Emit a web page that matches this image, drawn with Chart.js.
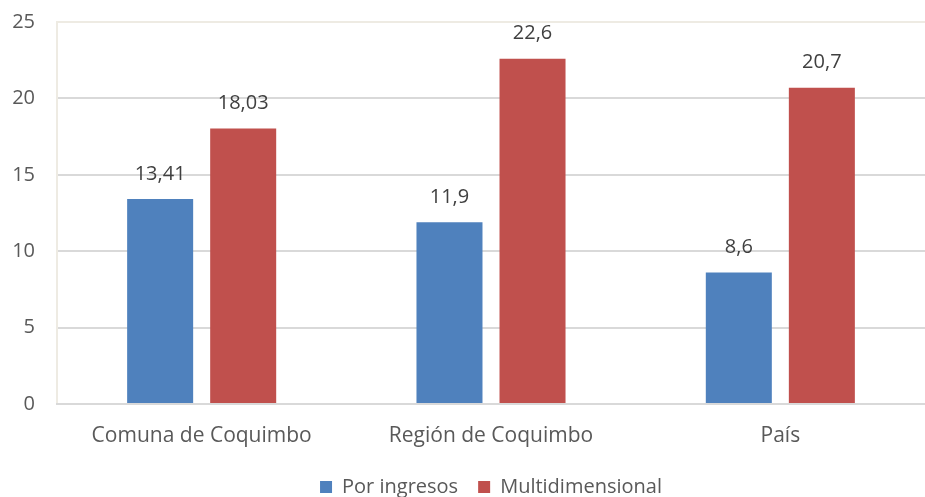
<!DOCTYPE html>
<html lang="es">
    <head>
        <meta charset="utf-8" />
        <script src="https://cdn.jsdelivr.net/npm/chart.js@4"></script>
        <title>Pobreza por ingresos y multidimensional</title>
        <style>
            html, body { margin: 0; padding: 0; background: #fff; }
            #wrap { width: 925px; height: 497px; }
        </style>
    </head>
    <body>
        <div id="wrap"><canvas id="barras" width="925" height="497"></canvas></div>
        <script>
            const categorias = ["Comuna de Coquimbo", "Región de Coquimbo", "País"];
            const porIngresos = [13.41, 11.9, 8.6];
            const multidimensional = [18.03, 22.6, 20.7];
            const etiquetasIngresos = ["13,41", "11,9", "8,6"];
            const etiquetasMulti = ["18,03", "22,6", "20,7"];

            const fuente = "'Open Sans', sans-serif";

            // etiquetas encima de cada barra
            const etiquetas = {
                id: "etiquetas",
                afterDatasetsDraw(chart) {
                    const ctx = chart.ctx;
                    ctx.save();
                    ctx.font = "20px " + fuente;
                    ctx.fillStyle = "#404040";
                    ctx.textAlign = "center";
                    ctx.textBaseline = "middle";
                    chart.data.datasets.forEach((ds, i) => {
                        chart.getDatasetMeta(i).data.forEach((bar, j) => {
                            ctx.fillText(ds.etiquetas[j], bar.x, bar.y - 25);
                        });
                    });
                    ctx.restore();
                }
            };

            // baja la leyenda hasta el borde inferior y la centra bajo el area del grafico
            const moverLeyenda = {
                id: "moverLeyenda",
                afterLayout(chart) {
                    const l = chart.legend;
                    const d = 482 - (l.top + l.height / 2);
                    l.top += d;
                    l.bottom += d;
                    const dx = (chart.chartArea.left + chart.chartArea.right) / 2 - (l.left + l.right) / 2;
                    l.left += dx;
                    l.right += dx;
                }
            };

            new Chart(document.getElementById("barras"), {
                type: "bar",
                data: {
                    labels: categorias,
                    datasets: [
                        { label: "Por ingresos", data: porIngresos, etiquetas: etiquetasIngresos, backgroundColor: "#4F81BD" },
                        { label: "Multidimensional", data: multidimensional, etiquetas: etiquetasMulti, backgroundColor: "#C0504D" }
                    ]
                },
                options: {
                    responsive: false,
                    animation: false,
                    categoryPercentage: 0.574,
                    barPercentage: 0.795,
                    layout: { padding: { top: 22, right: 0, left: 0, bottom: 0 } },
                    scales: {
                        y: {
                            min: 0,
                            max: 25,
                            ticks: { stepSize: 5, color: "#595959", font: { family: fuente, size: 20 }, padding: 22 },
                            grid: {
                                color: (c) => c.tick && c.tick.value === 25 ? "#EEEBE3" : "#D9D9D9",
                                lineWidth: 2,
                                drawTicks: false
                            },
                            border: { display: true, color: "#EEEBE3", width: 2 },
                            afterFit(scale) {
                                scale.width = 57;
                                scale.paddingTop = 0;
                                scale.paddingBottom = 0;
                            }
                        },
                        x: {
                            ticks: { color: "#595959", font: { family: fuente, size: 21 }, padding: 11 },
                            grid: { display: false },
                            border: { display: true, color: "#D9D9D9", width: 2 },
                            afterFit(scale) { scale.height = 497 - 404 - scale.chart.legend.height; }
                        }
                    },
                    plugins: {
                        legend: {
                            position: "bottom",
                            labels: {
                                color: "#595959",
                                font: { family: fuente, size: 20 },
                                boxWidth: 12,
                                boxHeight: 12,
                                padding: 20
                            }
                        },
                        tooltip: { enabled: false }
                    }
                },
                plugins: [etiquetas, moverLeyenda]
            });
        </script>
    </body>
</html>
